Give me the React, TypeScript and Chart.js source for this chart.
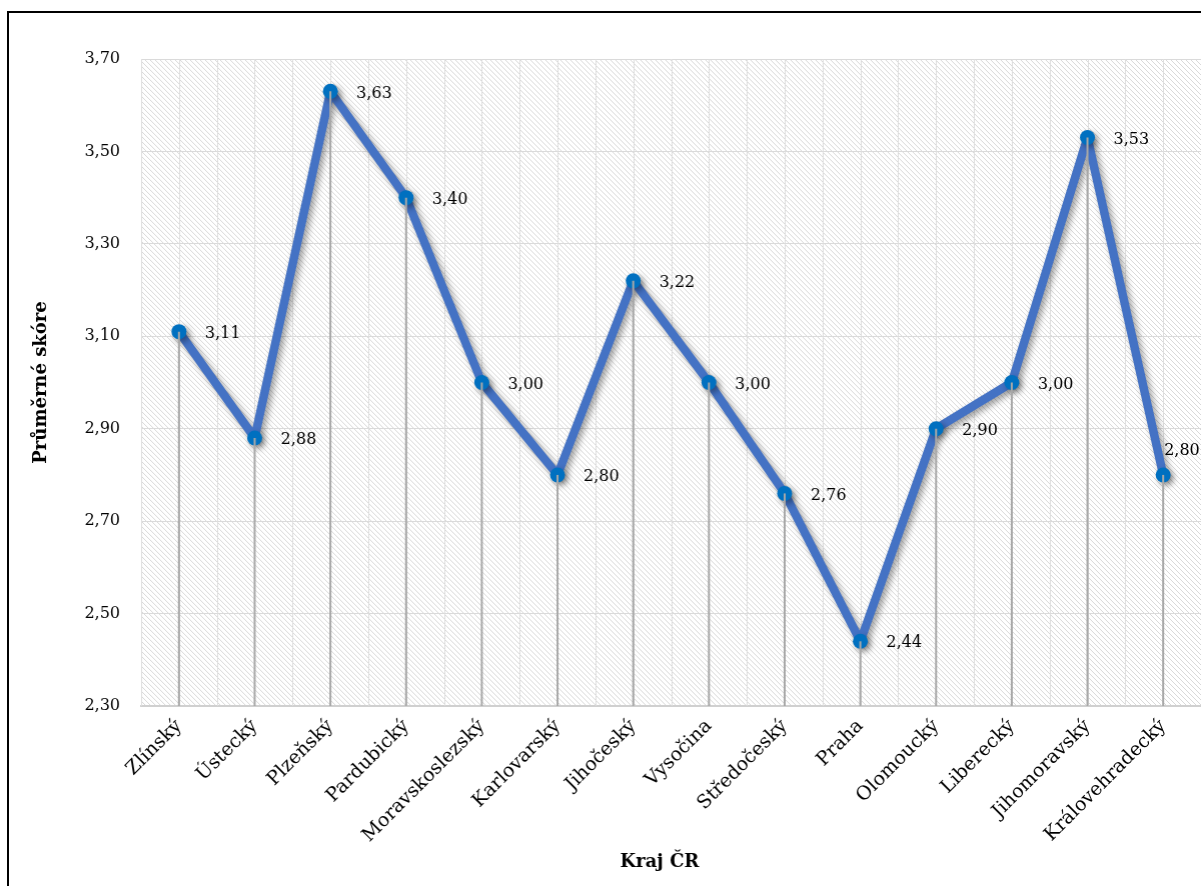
import { useEffect, useRef } from 'react';
import { Chart, registerables } from 'chart.js';

Chart.register(...registerables);

// Regions of the Czech Republic and their average score
const regions = [
  'Zlínský',
  'Ústecký',
  'Plzeňský',
  'Pardubický',
  'Moravskoslezský',
  'Karlovarský',
  'Jihočeský',
  'Vysočina',
  'Středočeský',
  'Praha',
  'Olomoucký',
  'Liberecký',
  'Jihomoravský',
  'Královehradecký',
];
const scores = [3.11, 2.88, 3.63, 3.4, 3.0, 2.8, 3.22, 3.0, 2.76, 2.44, 2.9, 3.0, 3.53, 2.8];

const yMin = 2.3;
const yMax = 3.7;
const yStep = 0.2;

const yTitle = 'Průměrné skóre';
const xTitle = 'Kraj ČR';

const FONT = "'DejaVu Serif', 'Liberation Serif', serif";

const PLOT_RIGHT = 1200;
const CANVAS_H = 886;

const fmt = (v: number) => v.toFixed(2).replace('.', ',');

// Diagonal hatch fill behind the plot area
const hatchPlugin = {
  id: 'hatch',
  beforeDraw(chart: any) {
    const { ctx, chartArea: a } = chart;
    const s = 5;
    const tile = document.createElement('canvas');
    tile.width = s;
    tile.height = s;
    const t = tile.getContext('2d')!;
    t.fillStyle = '#ffffff';
    t.fillRect(0, 0, s, s);
    t.strokeStyle = '#d9d9d9';
    t.lineWidth = 1;
    for (const k of [-s, 0, s]) {
      t.beginPath();
      t.moveTo(k, 0);
      t.lineTo(k + s, s);
      t.stroke();
    }
    const pat = ctx.createPattern(tile, 'repeat');
    ctx.save();
    ctx.fillStyle = pat;
    ctx.fillRect(a.left, a.top, a.right - a.left, a.bottom - a.top);
    ctx.restore();
  },
  beforeDatasetsDraw(chart: any) {
    // vertical grid lines at category centres and category boundaries
    const { ctx, chartArea: a, scales } = chart;
    const x = scales.x;
    const half = (a.right - a.left) / regions.length / 2;
    ctx.save();
    ctx.strokeStyle = '#dedede';
    ctx.lineWidth = 1;
    for (let i = 0; i < regions.length; i++) {
      const c = x.getPixelForValue(i);
      for (const px of [c - half, c, c + half]) {
        const p = Math.round(px) + 0.5;
        ctx.beginPath();
        ctx.moveTo(p, a.top);
        ctx.lineTo(p, a.bottom);
        ctx.stroke();
      }
    }
    ctx.restore();
  },
  beforeDatasetDraw(chart: any) {
    const { ctx } = chart;
    ctx.save();
    ctx.shadowColor = 'rgba(0,0,0,0.38)';
    ctx.shadowBlur = 6;
    ctx.shadowOffsetX = 3;
    ctx.shadowOffsetY = 3;
  },
  afterDatasetDraw(chart: any) {
    chart.ctx.restore();
  },
  afterDatasetsDraw(chart: any) {
    const { ctx, chartArea: a } = chart;
    const meta = chart.getDatasetMeta(0);
    // drop lines from each point to the category axis
    ctx.save();
    ctx.strokeStyle = '#a8a8a8';
    ctx.lineWidth = 2;
    meta.data.forEach((pt: any) => {
      ctx.beginPath();
      ctx.moveTo(pt.x, pt.y);
      ctx.lineTo(pt.x, a.bottom);
      ctx.stroke();
    });
    // value labels
    ctx.fillStyle = '#000';
    ctx.font = `16px ${FONT}`;
    ctx.textAlign = 'left';
    ctx.textBaseline = 'middle';
    meta.data.forEach((pt: any, i: number) => {
      const last = i === scores.length - 1;
      const lx = last ? pt.x + 1 : pt.x + 26;
      const ly = last ? pt.y - 24 : pt.y + 2;
      ctx.fillText(fmt(scores[i]), lx, ly);
    });
    ctx.restore();
  },
  afterDraw(chart: any) {
    const { ctx } = chart;
    ctx.save();
    ctx.fillStyle = '#000';
    ctx.font = `bold 18px ${FONT}`;
    ctx.textAlign = 'center';
    ctx.textBaseline = 'middle';
    ctx.fillText(xTitle, 659, 862);
    ctx.restore();
  },
};

export default function App() {
  const canvasRef = useRef<HTMLCanvasElement | null>(null);

  useEffect(() => {
    const canvas = canvasRef.current;
    if (!canvas) return;
    const chart = new Chart(canvas, {
      type: 'line',
      data: {
        labels: regions,
        datasets: [
          {
            data: scores,
            borderColor: '#4472C4',
            borderWidth: 8.5,
            borderJoinStyle: 'round',
            borderCapStyle: 'round',
            pointBackgroundColor: '#0070C0',
            pointBorderColor: '#0070C0',
            pointBorderWidth: 0,
            pointRadius: 7.5,
            pointHoverRadius: 7.5,
            tension: 0,
            fill: false,
          },
        ],
      },
      options: {
        animation: false,
        responsive: false,
        maintainAspectRatio: false,
        devicePixelRatio: 1,
        layout: { padding: { top: 59, right: 1, bottom: 0, left: 0 } },
        plugins: {
          legend: { display: false },
          tooltip: { enabled: false },
        },
        scales: {
          x: {
            offset: true,
            grid: { display: false, drawTicks: false },
            border: { display: true, color: '#d0d0d0', width: 2 },
            ticks: {
              autoSkip: false,
              minRotation: 45,
              maxRotation: 45,
              padding: 9,
              color: '#000',
              font: { family: FONT, size: 19 },
            },
            afterFit: (s: any) => {
              s.height = 180;
            },
          },
          y: {
            min: yMin,
            max: yMax,
            grid: { color: '#dadada', lineWidth: 1, drawTicks: false },
            border: { display: false },
            ticks: {
              stepSize: yStep,
              padding: 21,
              color: '#000',
              font: { family: FONT, size: 16 },
              callback: (v: any) => fmt(Number(v)),
            },
            title: {
              display: true,
              text: yTitle,
              color: '#000',
              font: { family: FONT, size: 18, weight: 'bold' },
              padding: { top: 31, bottom: 0 },
            },
            afterFit: (s: any) => {
              s.width = 141;
            },
          },
        },
      },
      plugins: [hatchPlugin],
    } as any);
    // widen the canvas so the plot area ends exactly at PLOT_RIGHT
    const diff = PLOT_RIGHT - chart.chartArea.right;
    if (Math.abs(diff) > 0.25) {
      chart.resize(chart.width + diff, CANVAS_H);
    }
    return () => chart.destroy();
  }, []);

  return (
    <div style={{ position: 'fixed', inset: 0, overflow: 'hidden', background: '#fff' }}>
      <div
        style={{
          position: 'absolute',
          left: 7,
          top: 11,
          width: 1300,
          height: 1000,
          border: '2px solid #000',
          boxSizing: 'border-box',
        }}
      />
      <div style={{ position: 'absolute', left: 0, top: 0, width: 1300, height: CANVAS_H }}>
        <canvas ref={canvasRef} width={1207} height={CANVAS_H} />
      </div>
    </div>
  );
}
